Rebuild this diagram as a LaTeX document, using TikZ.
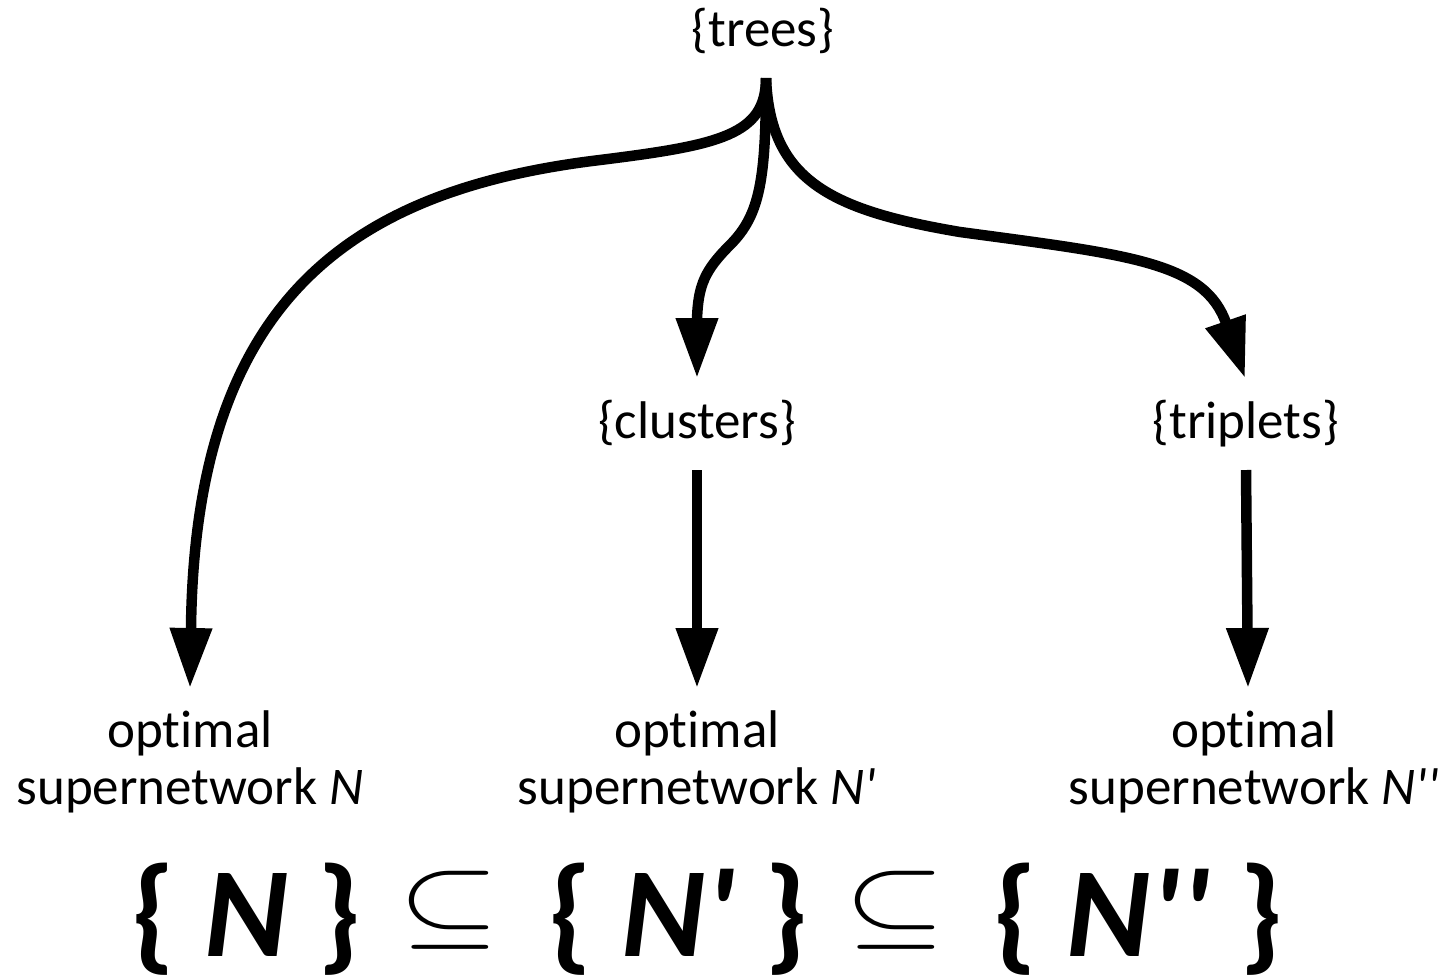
\documentclass[tikz,border=0pt]{standalone}
\usepackage{fontspec}
\newfontfamily\cf{Carlito}[Ligatures=NoCommon,Contextuals=NoAlternate]
\usetikzlibrary{arrows.meta}
\begin{document}
\begin{tikzpicture}[x=1pt,y=-1pt,
  lbl/.style={inner sep=0pt,font=\cf\fontsize{53}{57}\selectfont,align=center},
  big/.style={inner sep=0pt,font=\cf\bfseries\fontsize{128}{128}\selectfont},
  sub/.style={inner sep=0pt,font=\fontsize{10}{12}\selectfont},
  arr/.style={line width=10.5pt,-{Triangle[length=60pt,width=40pt]}}]
\useasboundingbox (0,0) rectangle (1451,975);
\node[lbl,anchor=base] (trees) at (763,46) {\{trees\}};
\node[lbl,anchor=base] (clusters) at (697,438) {\{clusters\}};
\node[lbl,anchor=base] (triplets) at (1246,438) {\{triplets\}};
\node[lbl] (optN) at (190,762) {opt\kern0pt imal\\supernetwork \textit{N}};
\node[lbl] (optN1) at (697,762) {opt\kern0pt imal\\supernetwork \textit{N'}};
\node[lbl] (optN2) at (1254,762) {opt\kern0pt imal\\supernetwork \textit{N''}};
\coordinate (stem) at (766,78);
\draw[arr] (stem) .. controls (766,135) and (720,145) .. (600,160)
  .. controls (350,190) and (195,300) .. (191,628) -- (190,688);
\draw[arr] (stem) .. controls (766,180) and (760,215) .. (730,245)
  .. controls (705,270) and (698,285) .. (697,320) -- (697,378);
\draw[arr] (stem) .. controls (770,180) and (830,210) .. (960,232)
  .. controls (1130,255) and (1205,262) .. (1245,378);
\draw[arr] (clusters.south |- 0,470) coordinate (c0) -- (697,688) coordinate (c1);
\draw[arr] (triplets.south |- 0,470) coordinate (t0) -- (1248,688) coordinate (t1);
\node[big,anchor=base] (s1) at (246.5,956) {\{ \textit{N} \}};
\node[sub] (sub1) at (449.5,910) {\scalebox{13}[10.1]{$\subseteq$}};
\node[big,anchor=base] (s2) at (678.5,956) {\{ \textit{N'} \}};
\node[sub] (sub2) at (895,910) {\scalebox{13}[10.1]{$\subseteq$}};
\node[big,anchor=base] (s3) at (1138.5,956) {\{ \textit{N''} \}};
\end{tikzpicture}
\end{document}
